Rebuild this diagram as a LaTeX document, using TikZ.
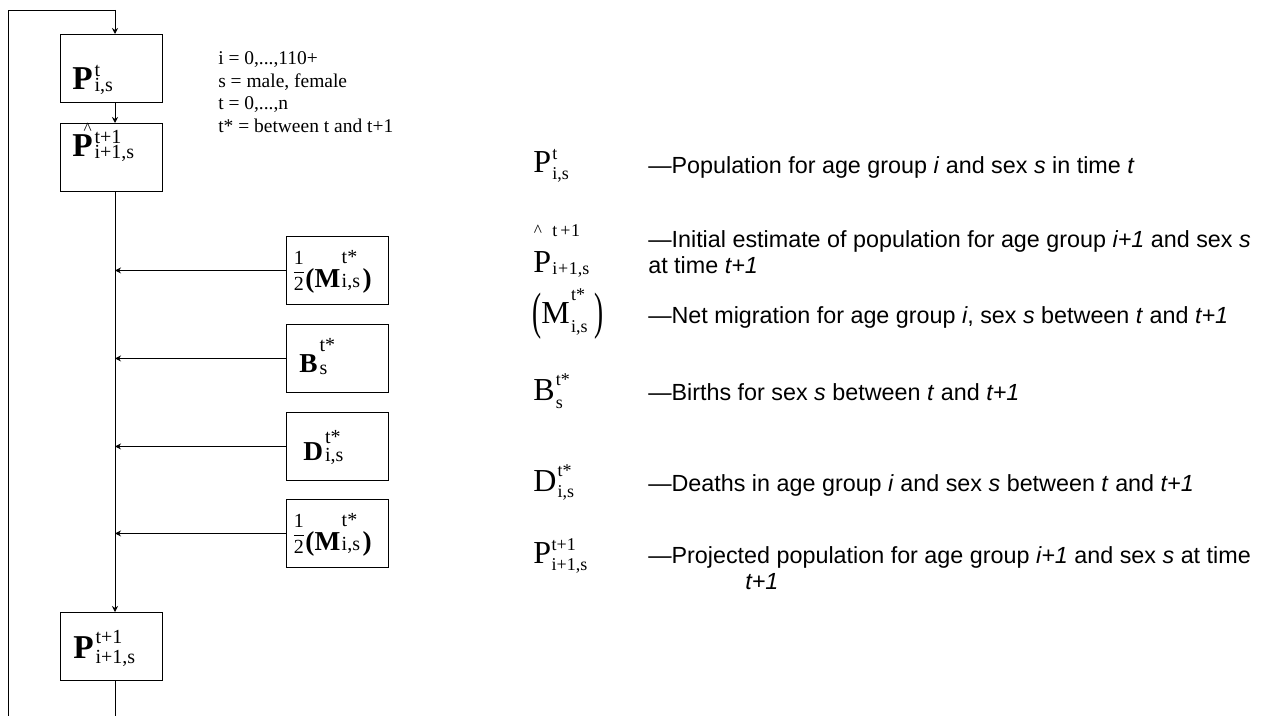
\documentclass[tikz,border=0pt]{standalone}
\usepackage{fontspec}
\setmainfont{Liberation Serif}
\newfontfamily\arial{Liberation Sans}
\usepackage{amsmath}
\usepackage{graphicx}
\usetikzlibrary{arrows.meta,calc}
\newsavebox\SSsup \newsavebox\SSsub \newlength\SSw
\newcommand\SSc[4]{\sbox\SSsup{#1}\sbox\SSsub{#2}\setlength\SSw{\wd\SSsup}\ifdim\wd\SSsub>\SSw\setlength\SSw{\wd\SSsub}\fi\makebox[\SSw][l]{\rlap{\raisebox{#3}{\usebox\SSsup}}\raisebox{#4}{\usebox\SSsub}}}
\newcommand\bigP{\fontsize{25}{25}\selectfont}
\newcommand\midL{\fontsize{20.5}{20.5}\selectfont}
\newcommand\bsc{\fontsize{15}{15}\selectfont}
\newcommand\lsym{\fontsize{24}{24}\selectfont}
\newcommand\lsc{\fontsize{13.5}{13.5}\selectfont}
\newcommand\desc{\arial\fontsize{17.5}{19.5}\selectfont}
\newcommand\note{\fontsize{14.6}{16.9}\selectfont}
\newcommand\half{\raisebox{7pt}{\fontsize{15}{15}\mdseries\selectfont$\genfrac{}{}{0.7pt}{0}{\text{1}}{\text{2}}$}}
\tikzset{
  box/.style={draw, line width=0.7pt, minimum width=76.5pt, minimum height=51pt, inner sep=0pt, anchor=north west},
  txt/.style={anchor=base west, inner sep=0pt},
  dtxt/.style={anchor=base west, inner sep=0pt, font=\desc},
  ntxt/.style={anchor=base west, inner sep=0pt, font=\note},
  arr/.style={line width=0.6pt, -{Stealth[length=4.5pt,width=4.5pt]}},
  ln/.style={line width=0.6pt}
}
\begin{document}
\begin{tikzpicture}[x=0.75pt,y=-0.75pt]
\useasboundingbox (0,0) rectangle (1269,716);
% boxes
\node[box] (b1) at (60,34) {};
\node[box] (b2) at (60,123) {};
\node[box] (m1) at (286,236) {};
\node[box] (bb) at (286,324) {};
\node[box] (dd) at (286,412) {};
\node[box] (m2) at (286,499) {};
\node[box] (b3) at (60,612) {};
% box contents
\node[txt] (t1) at ($(b1.north west)+(12,56)$) {\bigP\bfseries P\kern1.5pt\bsc\mdseries\SSc{t}{i,s}{10pt}{-1pt}};
\node[txt] (t2) at ($(b2.north west)+(12,34)$) {\bigP\bfseries\makebox[0pt][l]{\kern8.5pt\raisebox{17pt}{\fontsize{13}{13}\mdseries\selectfont\textasciicircum}}P\kern1.5pt\bsc\mdseries\SSc{t+1}{i+1,s}{10pt}{-1.5pt}};
\node[txt] (tm1) at ($(m1.north west)+(6,51)$) {\half\midL\bfseries(M\kern1pt\bsc\mdseries\SSc{t*}{i,s}{17.5pt}{-0.5pt}\kern2pt\midL\bfseries)};
\node[txt] (tb) at ($(bb.north west)+(13,48)$) {\midL\bfseries B\kern1.5pt\bsc\mdseries\SSc{t*}{s}{15.75pt}{-2pt}};
\node[txt] (td) at ($(dd.north west)+(17,48)$) {\midL\bfseries D\kern1.5pt\bsc\mdseries\SSc{t*}{i,s}{12.75pt}{-1pt}};
\node[txt] (tm2) at ($(m2.north west)+(6,51)$) {\half\midL\bfseries(M\kern1pt\bsc\mdseries\SSc{t*}{i,s}{17.5pt}{-0.5pt}\kern2pt\midL\bfseries)};
\node[txt] (t3) at ($(b3.north west)+(13,46)$) {\bigP\bfseries P\kern1.5pt\bsc\mdseries\SSc{t+1}{i+1,s}{11.25pt}{-3.75pt}};
% connectors
\coordinate (L) at (115,0);
\coordinate (lb) at (8,716);
\coordinate (lt) at (8,10);
\coordinate (lm) at (115,10);
\coordinate (bot) at (115,716);
\draw[ln] (lb) -- (lt) -- (lm);
\draw[arr] (lm) -- (b1.north -| L);
\draw[arr] (b1.south -| L) -- (b2.north -| L);
\draw[arr] (b2.south -| L) -- (b3.north -| L);
\draw[ln] (b3.south -| L) -- (bot);
\draw[arr] (m1.west) -- (m1.west -| L);
\draw[arr] (bb.west) -- (bb.west -| L);
\draw[arr] (dd.west) -- (dd.west -| L);
\draw[arr] (m2.west) -- (m2.west -| L);
% notes
\node[ntxt] (n1) at (218,65) {i = 0,...,110+};
\node[ntxt] (n2) at (218,88) {s = male, female};
\node[ntxt] (n3) at (218,110) {t = 0,...,n};
\node[ntxt] (n4) at (218,133) {t* = between t and t+1};
% legend symbols
\node[txt] (s1) at (533,173) {\lsym P\kern1pt\lsc\SSc{t}{i,s}{10pt}{-5pt}};
\node[txt] (s2) at (533,273) {\lsym\makebox[0pt][l]{\kern0.5pt\raisebox{27pt}{\fontsize{13}{13}\selectfont\textasciicircum}}P\kern1pt\lsc\SSc{t\,+\kern0.5pt1}{i\kern0.5pt+\kern0.5pt1,s}{27pt}{-1.5pt}};
\node[txt] (s3) at (532,323) {\lsym\raisebox{-4pt}{\scalebox{0.85}[1.6]{(}}M\kern1pt\lsc\SSc{t*}{i,s}{17pt}{-7pt}\kern5pt\lsym\raisebox{-4pt}{\scalebox{0.85}[1.6]{)}}};
\node[txt] (s4) at (533,400) {\lsym B\kern1pt\lsc\SSc{t*}{s}{11pt}{-6pt}};
\node[txt] (s5) at (533,491) {\lsym D\kern1pt\lsc\SSc{t*}{i,s}{11pt}{-5pt}};
\node[txt] (s6) at (533,563) {\lsym P\kern0.5pt\lsc\SSc{t+1}{i+1,s}{9.5pt}{-5.25pt}};
% legend descriptions
\node[dtxt] (d1) at (648,174) {—Population for age group \textit{i} and sex \textit{s} in time \textit{t}};
\node[dtxt] (d2a) at (648,248) {—Initial estimate of population for age group \textit{i+1} and sex \textit{s}};
\node[dtxt] (d2b) at (648,274) {at time \textit{t+1}};
\node[dtxt] (d3) at (648,323) {—Net migration for age group \textit{i}, sex \textit{s} between \textit{t} and \textit{t+1}};
\node[dtxt] (d4) at (648,400) {—Births for sex \textit{s} between \textit{t} and \textit{t+1}};
\node[dtxt] (d5) at (648,491) {—Deaths in age group \textit{i} and sex \textit{s} between \textit{t} and \textit{t+1}};
\node[dtxt] (d6a) at (648,563) {—Projected population for age group \textit{i+1} and sex \textit{s} at time};
\node[dtxt] (d6b) at (745,589) {\textit{t+1}};
\end{tikzpicture}
\end{document}
